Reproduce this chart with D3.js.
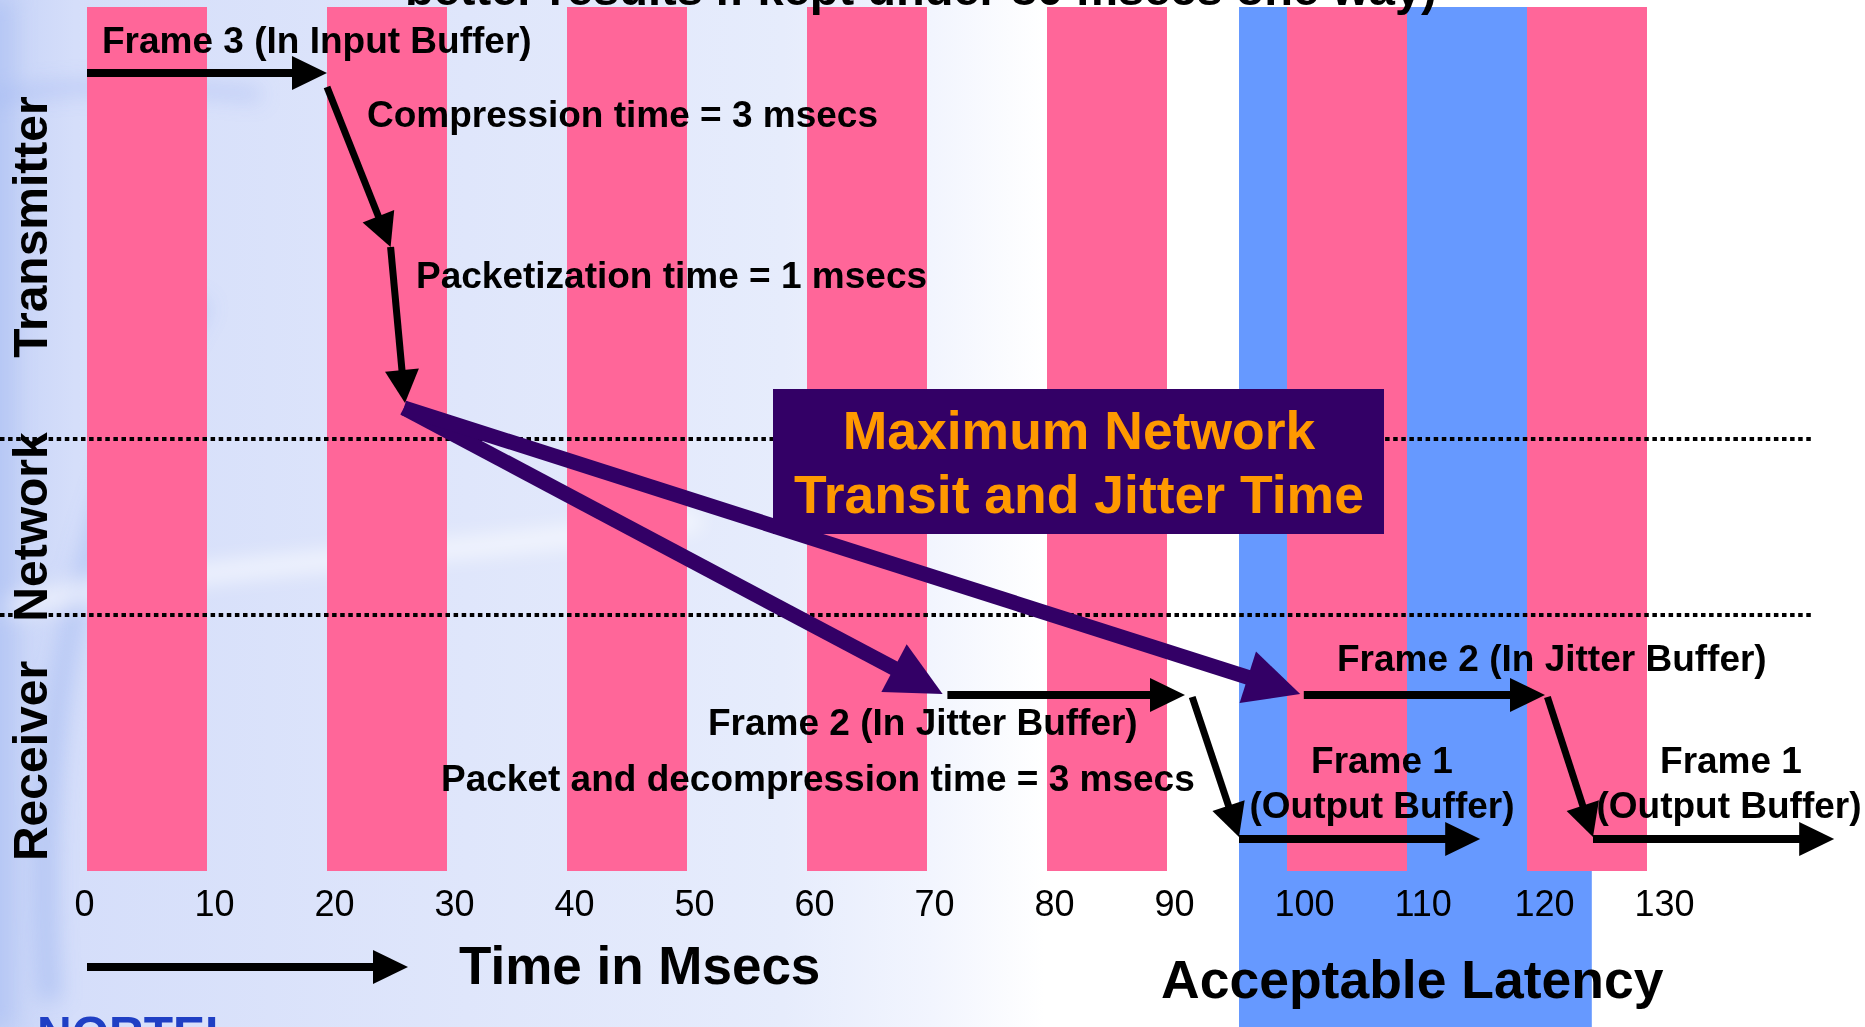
<!DOCTYPE html>
<html>
<head>
<meta charset="utf-8">
<script src="https://cdn.jsdelivr.net/npm/d3@7"></script>
<style>
  html, body { margin: 0; padding: 0; background: #fff; overflow: hidden; }
  svg { display: block; }
  text { font-family: "Liberation Sans", Arial, Helvetica, sans-serif; }
</style>
</head>
<body>
<script>
// ---- Timeline data (milliseconds) ----
const tickValues = [0, 10, 20, 30, 40, 50, 60, 70, 80, 90, 100, 110, 120, 130];
const frameStarts = [0, 20, 40, 60, 80, 100, 120];   // each frame slot lasts frameLength
const frameLength = 10;
const acceptableLatency = [96, 125.4];               // start / end of acceptable window
const laneNames = ["Transmitter", "Network", "Receiver"];

// Horizontal buffer arrows: [start ms, end ms, level]
const bufferArrows = [
  [0, 20, "input"],
  [71.7, 91.5, "jitter"],
  [101.4, 121.5, "jitter"],
  [96, 116.1, "output"],
  [125.5, 145.6, "output"]
];
// Processing step arrows: [start ms, end ms, from level, to level]
const stepArrows = [
  [20, 25.3, "inputDrop", "compressed"],
  [25.3, 26.5, "compressed", "packetized"],
  [92.1, 96, "jitterDrop", "outputTip"],
  [121.7, 125.5, "jitterDrop", "outputTip"]
];
// Network transit arrows (minimum and maximum): [start ms, arrival ms]
const transitArrows = [
  [26.4, 71.3],
  [26.4, 101.1]
];

const titleText = "better results if kept under 80 msecs one way)";
const boxLines = ["Maximum Network", "Transit and Jitter Time"];

// ---- Layout ----
const W = 1865, H = 1027;
const barTop = 7, barBottom = 871;
const x = d3.scaleLinear().domain([0, 130]).range([87, 1647]);
const levelY = {
  input: 73, inputDrop: 87, compressed: 247, packetized: 403, transit: 408,
  jitter: 695, jitterDrop: 697, outputTip: 837, output: 839
};
const laneDividers = [439, 615];
const laneCenters = [227, 527, 761];

const svg = d3.select("body").append("svg").attr("width", W).attr("height", H);
const defs = svg.append("defs");

// slide background: lavender wash fading to white on the right
const bg = defs.append("linearGradient").attr("id", "bgGrad")
  .attr("x1", 0).attr("y1", 0).attr("x2", 1).attr("y2", 0);
[[0, "#c6d3f7"], [0.04, "#d5defa"], [0.25, "#dfe6fb"], [0.42, "#e6ecfc"],
 [0.5, "#f2f5fe"], [0.56, "#ffffff"], [1, "#ffffff"]]
  .forEach(([o, c]) => bg.append("stop").attr("offset", o).attr("stop-color", c));
const blur = defs.append("filter").attr("id", "soft").attr("x", "-20%").attr("y", "-20%")
  .attr("width", "140%").attr("height", "140%");
blur.append("feGaussianBlur").attr("stdDeviation", 10);

svg.append("rect").attr("width", W).attr("height", H).attr("fill", "url(#bgGrad)");

// faint globe swirls in the background
const swirl = svg.append("g").attr("filter", "url(#soft)").attr("fill", "none");
swirl.append("path").attr("d", "M-20,100 C80,80 160,85 260,95")
  .attr("stroke", "#8ea8ef").attr("stroke-width", 12).attr("opacity", 0.4);
swirl.append("path").attr("d", "M50,1000 C30,760 70,520 200,300")
  .attr("stroke", "#8aa5ee").attr("stroke-width", 24).attr("opacity", 0.35);
swirl.append("path").attr("d", "M0,610 C200,560 420,560 700,520")
  .attr("stroke", "#ffffff").attr("stroke-width", 18).attr("opacity", 0.65);
swirl.append("rect").attr("x", -30).attr("y", 0).attr("width", 45).attr("height", H)
  .attr("fill", "#a9bdf2").attr("opacity", 0.55);

// acceptable latency window (behind the frame slots)
svg.append("rect")
  .attr("x", x(acceptableLatency[0])).attr("y", barTop)
  .attr("width", x(acceptableLatency[1]) - x(acceptableLatency[0]))
  .attr("height", H - barTop)
  .attr("fill", "#6699ff");

// frame slots
svg.append("g").selectAll("rect").data(frameStarts).join("rect")
  .attr("x", d => x(d)).attr("y", barTop)
  .attr("width", d => x(d + frameLength) - x(d))
  .attr("height", barBottom - barTop)
  .attr("fill", "#ff6699");

// lane dividers
svg.append("g").selectAll("line").data(laneDividers).join("line")
  .attr("x1", 0).attr("x2", 1811).attr("y1", d => d).attr("y2", d => d)
  .attr("stroke", "#000").attr("stroke-width", 4).attr("stroke-dasharray", "4.5 3.6");

// arrow helper: shaft plus triangular head
function arrow(g, x1, y1, x2, y2, o) {
  const dx = x2 - x1, dy = y2 - y1, len = Math.hypot(dx, dy);
  const ux = dx / len, uy = dy / len;
  const bx = x2 - ux * o.head, by = y2 - uy * o.head;
  g.append("line")
    .attr("x1", x1).attr("y1", y1).attr("x2", bx + ux * 2).attr("y2", by + uy * 2)
    .attr("stroke", o.color).attr("stroke-width", o.width).attr("stroke-linecap", "butt");
  g.append("path")
    .attr("d", `M${x2},${y2}L${bx - uy * o.half},${by + ux * o.half}L${bx + uy * o.half},${by - ux * o.half}Z`)
    .attr("fill", o.color);
}

const black = { color: "#000", width: 8, head: 35, half: 17 };
const step = { color: "#000", width: 7, head: 33, half: 17 };
const purple = { color: "#330066", width: 15, head: 55, half: 27 };

const arrows = svg.append("g");
bufferArrows.forEach(([t0, t1, lvl]) =>
  arrow(arrows, x(t0), levelY[lvl], x(t1), levelY[lvl], black));
stepArrows.forEach(([t0, t1, a, b]) =>
  arrow(arrows, x(t0), levelY[a], x(t1), levelY[b], step));
transitArrows.forEach(([t0, t1]) =>
  arrow(arrows, x(t0), levelY.transit, x(t1), levelY.jitter - 1, purple));

// maximum transit box
const box = svg.append("g");
box.append("rect").attr("x", 773).attr("y", 389).attr("width", 611).attr("height", 145)
  .attr("fill", "#330066");
box.selectAll("text").data(boxLines).join("text")
  .attr("x", 1079).attr("y", (d, i) => 449 + i * 64)
  .attr("text-anchor", "middle")
  .attr("font-size", 53.5).attr("font-weight", "bold").attr("fill", "#ff9900")
  .text(d => d);

// time axis labels
const axis = d3.axisBottom(x).tickValues(tickValues).tickSize(0).tickFormat(d3.format("d"));
const ax = svg.append("g").attr("transform", "translate(0,916)").call(axis);
ax.select(".domain").remove();
ax.selectAll("text")
  .attr("y", 0).attr("dy", 0).attr("dx", -13)
  .attr("text-anchor", "start")
  .attr("font-size", 36).attr("fill", "#000")
  .style("font-family", "'Liberation Sans', Arial, sans-serif");

// annotations
const notes = [
  ["Frame 3 (In Input Buffer)", 102, 53, "start"],
  ["Compression time = 3 msecs", 367, 127, "start"],
  ["Packetization time = 1 msecs", 416, 288, "start"],
  ["Frame 2 (In Jitter Buffer)", 708, 735, "start"],
  ["Packet and decompression time = 3 msecs", 441, 791, "start"],
  ["Frame 2 (In Jitter Buffer)", 1337, 671, "start"],
  ["Frame 1", 1382, 773, "middle"],
  ["(Output Buffer)", 1382, 818, "middle"],
  ["Frame 1", 1731, 773, "middle"],
  ["(Output Buffer)", 1729, 818, "middle"]
];
svg.append("g").selectAll("text").data(notes).join("text")
  .attr("x", d => d[1]).attr("y", d => d[2]).attr("text-anchor", d => d[3])
  .attr("font-size", 37).attr("font-weight", "bold").attr("fill", "#000")
  .text(d => d[0]);

// lane names
svg.append("g").selectAll("text").data(laneNames).join("text")
  .attr("transform", (d, i) => `translate(47,${laneCenters[i]}) rotate(-90)`)
  .attr("text-anchor", "middle")
  .attr("font-size", 48).attr("font-weight", "bold").attr("fill", "#000")
  .text(d => d);

// title line (runs off the top edge)
svg.append("text").attr("x", 405).attr("y", 5)
  .attr("font-size", 47).attr("font-weight", "bold").attr("fill", "#000")
  .text(titleText);

// time direction arrow and captions
arrow(svg.append("g"), x(0), 967, 408, 967, black);
svg.append("text").attr("x", 459).attr("y", 984)
  .attr("font-size", 53).attr("font-weight", "bold").attr("fill", "#000")
  .text("Time in Msecs");
svg.append("text").attr("x", 1161).attr("y", 998)
  .attr("font-size", 53.5).attr("font-weight", "bold").attr("fill", "#000")
  .text("Acceptable Latency");

// company mark at the foot of the slide
svg.append("text").attr("x", 37).attr("y", 1050)
  .attr("font-size", 48).attr("font-weight", "bold").attr("fill", "#1f3fc4")
  .text("NORTEL");
</script>
</body>
</html>
